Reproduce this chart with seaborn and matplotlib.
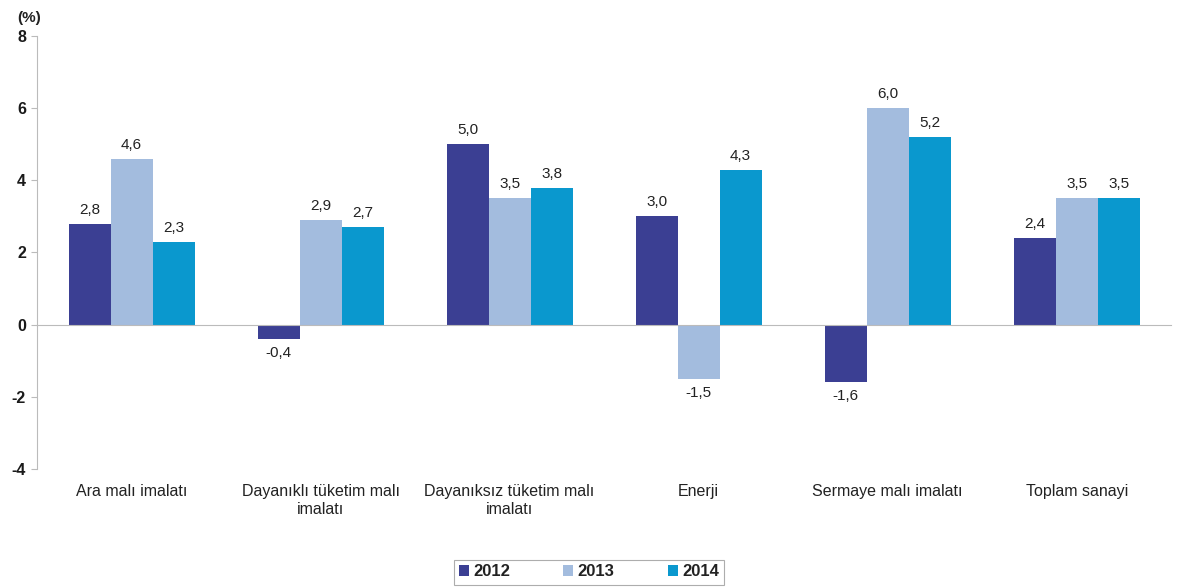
import pandas as pd
import matplotlib.pyplot as plt
import seaborn as sns

categories = ["Ara malı imalatı", "Dayanıklı tüketim malı\nimalatı",
              "Dayanıksız tüketim malı\nimalatı", "Enerji",
              "Sermaye malı imalatı", "Toplam sanayi"]
years = ["2012", "2013", "2014"]
v2012 = [2.8, -0.4, 5.0, 3.0, -1.6, 2.4]
v2013 = [4.6, 2.9, 3.5, -1.5, 6.0, 3.5]
v2014 = [2.3, 2.7, 3.8, 4.3, 5.2, 3.5]
colors = ["#3B3F93", "#A3BCDE", "#0A98CE"]


def plot_data():
    rows = []
    for y, vals in zip(years, [v2012, v2013, v2014]):
        for c, v in zip(categories, vals):
            rows.append({"cat": c, "year": y, "value": v})
    df = pd.DataFrame(rows)

    sns.set_style("white")
    plt.rcParams["font.family"] = ["Liberation Sans", "DejaVu Sans"]

    fig = plt.figure(figsize=(11.83, 5.87), dpi=100)
    ax = fig.add_axes([0.0313, 0.201, 0.9587, 0.7377])
    sns.barplot(data=df, x="cat", y="value", hue="year", palette=colors,
                width=0.667, saturation=1, linewidth=0, ax=ax, legend=True)

    for cont in ax.containers:
        ax.bar_label(cont, labels=[f"{b.get_height():.1f}".replace(".", ",")
                                   for b in cont],
                     padding=5, fontsize=11, color="#222222")

    ax.set_ylim(-4, 8)
    ax.set_xlim(-0.5, len(categories) - 0.5)
    ax.set_yticks(range(-4, 9, 2))
    ax.set_yticklabels([str(t) for t in range(-4, 9, 2)], fontsize=11.5,
                       fontweight="bold", color="#1A1A1A")
    ax.set_xlabel("")
    ax.set_ylabel("")

    # x axis sits on zero, with ticks between categories
    ax.spines["top"].set_visible(False)
    ax.spines["right"].set_visible(False)
    ax.spines["bottom"].set_position(("data", 0))
    ax.spines["bottom"].set_color("#BBBBBB")
    ax.spines["left"].set_color("#BBBBBB")
    ax.set_xticks([i + 0.5 for i in range(len(categories) - 1)])
    ax.set_xticklabels([])
    ax.tick_params(axis="x", direction="out", length=4, color="#BBBBBB")
    ax.tick_params(axis="y", direction="out", length=4, color="#BBBBBB",
                   left=True, pad=4)

    for i, c in enumerate(categories):
        ax.text(i, -4.42, c, ha="center", va="top", fontsize=11.5,
                color="#222222", linespacing=1.25)

    fig.text(0.015, 0.97, "(%)", fontsize=11, fontweight="bold",
             color="#222222", ha="left", va="center")

    handles, labels = ax.get_legend_handles_labels()
    leg = ax.legend(handles, labels, loc="center", ncol=3,
                    bbox_to_anchor=(589 / 1183, 1 - 572 / 587),
                    bbox_transform=fig.transFigure, fontsize=12,
                    frameon=True, fancybox=False, handlelength=0.6,
                    handleheight=0.6, handletextpad=0.25, columnspacing=3.2,
                    borderpad=0.3, borderaxespad=0)
    leg.get_frame().set_edgecolor("#999999")
    leg.get_frame().set_linewidth(0.8)
    for t in leg.get_texts():
        t.set_fontweight("bold")
        t.set_color("#222222")

    fig.savefig("out.png", dpi=100)


if __name__ == "__main__":
    plot_data()
